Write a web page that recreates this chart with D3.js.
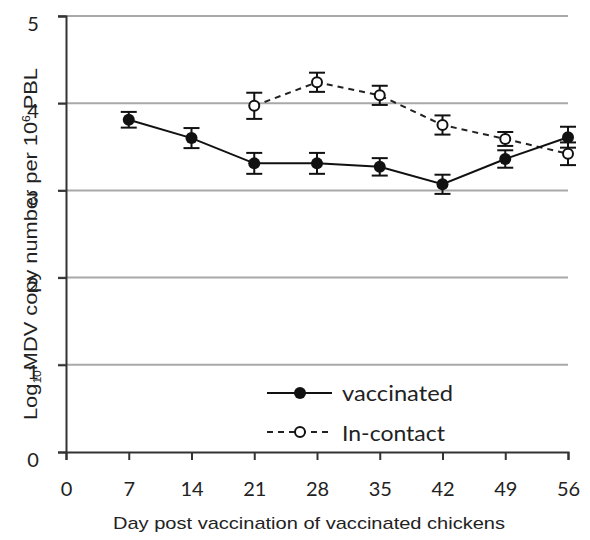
<!DOCTYPE html>
<html>
<head>
<meta charset="utf-8">
<script src="https://cdn.jsdelivr.net/npm/d3@7"></script>
<style>
  html, body { margin: 0; padding: 0; background: #fff; }
  svg { display: block; }
</style>
</head>
<body>
<svg id="chart" width="590" height="540"></svg>
<script>
const days = [7, 14, 21, 28, 35, 42, 49, 56];
const vaccinated = [3.81, 3.60, 3.31, 3.31, 3.27, 3.07, 3.36, 3.61];
const vaccinatedErr = [0.09, 0.115, 0.12, 0.12, 0.10, 0.11, 0.10, 0.12];
const inContactDays = [21, 28, 35, 42, 49, 56];
const inContact = [3.97, 4.24, 4.09, 3.75, 3.59, 3.42];
const inContactErr = [0.15, 0.11, 0.11, 0.11, 0.08, 0.13];
const xTicks = [0, 7, 14, 21, 28, 35, 42, 49, 56];
const yTicks = [0, 1, 2, 3, 4, 5];
const seriesNames = ["vaccinated", "In-contact"];

const svg = d3.select("#chart");
const x = d3.scaleLinear().domain([0, 56]).range([66, 568]);
const y = d3.scaleLinear().domain([0, 5]).range([452, 16]);

// gridlines
svg.append("g").selectAll("line").data(yTicks.filter(d => d > 0)).join("line")
  .attr("x1", 58).attr("x2", x(56))
  .attr("y1", d => y(d)).attr("y2", d => y(d))
  .attr("stroke", "#a8a8a8").attr("stroke-width", 2);

// y title (drawn beneath tick labels)
const yt = svg.append("text")
  .attr("transform", "translate(37,244) rotate(-90)")
  .attr("text-anchor", "middle")
  .attr("font-family", "'Liberation Sans', Arial, sans-serif").attr("font-size", 18)
  .attr("fill", "#222");
yt.append("tspan").text("Log");
yt.append("tspan").attr("font-size", 10).attr("dy", 4).text("10");
yt.append("tspan").attr("dy", -4).text("MDV copy number per 10");
yt.append("tspan").attr("font-size", 10).attr("dy", -7).text("6");
yt.append("tspan").attr("dy", 7).text(" PBL");
yt.attr("textLength", 352).attr("lengthAdjust", "spacingAndGlyphs");

// y axis
const yAxis = svg.append("g").attr("transform", `translate(${x(0)},0)`)
  .call(d3.axisLeft(y).tickValues(yTicks).tickSize(8).tickPadding(18).tickFormat(d3.format("d")));
yAxis.select(".domain").attr("stroke", "#333").attr("stroke-width", 2);
yAxis.selectAll(".tick line").attr("stroke", "#333").attr("stroke-width", 2);
yAxis.selectAll(".tick text")
  .attr("font-family", "Lato, 'Open Sans', sans-serif").attr("font-size", 20)
  .attr("fill", "#222").attr("dy", "0.7em").attr("text-anchor", "middle").attr("x", -33);

// x axis
const xAxis = svg.append("g").attr("transform", `translate(0,${y(0)})`)
  .call(d3.axisBottom(x).tickValues(xTicks).tickSize(8).tickPadding(22).tickFormat(d3.format("d")));
xAxis.select(".domain").attr("stroke", "#333").attr("stroke-width", 2);
xAxis.selectAll(".tick line").attr("stroke", "#333").attr("stroke-width", 2);
xAxis.selectAll(".tick text")
  .attr("font-family", "Lato, 'Open Sans', sans-serif").attr("font-size", 20).attr("fill", "#222");

// x title
svg.append("text")
  .attr("x", 309).attr("y", 529).attr("text-anchor", "middle")
  .attr("font-family", "'Liberation Sans', Arial, sans-serif").attr("font-size", 17)
  .attr("fill", "#222")
  .attr("textLength", 392).attr("lengthAdjust", "spacingAndGlyphs")
  .text("Day post vaccination of vaccinated chickens");

// lines
const line = d3.line().x(d => x(d[0])).y(d => y(d[1]));
const vacData = days.map((d, i) => [d, vaccinated[i], vaccinatedErr[i]]);
const conData = inContactDays.map((d, i) => [d, inContact[i], inContactErr[i]]);

svg.append("path").datum(conData).attr("d", line)
  .attr("fill", "none").attr("stroke", "#222").attr("stroke-width", 2).attr("stroke-dasharray", "6,5");
svg.append("path").datum(vacData).attr("d", line)
  .attr("fill", "none").attr("stroke", "#111").attr("stroke-width", 2);

function errorBars(data) {
  const g = svg.append("g").attr("stroke", "#111").attr("stroke-width", 2);
  data.forEach(d => {
    const cx = x(d[0]), top = y(d[1] + d[2]), bot = y(d[1] - d[2]);
    g.append("line").attr("x1", cx).attr("x2", cx).attr("y1", top).attr("y2", bot);
    g.append("line").attr("x1", cx - 8).attr("x2", cx + 8).attr("y1", top).attr("y2", top);
    g.append("line").attr("x1", cx - 8).attr("x2", cx + 8).attr("y1", bot).attr("y2", bot);
  });
}
errorBars(conData);
errorBars(vacData);

svg.append("g").selectAll("circle").data(conData).join("circle")
  .attr("cx", d => x(d[0])).attr("cy", d => y(d[1])).attr("r", 5)
  .attr("fill", "#fff").attr("stroke", "#111").attr("stroke-width", 2);
svg.append("g").selectAll("circle").data(vacData).join("circle")
  .attr("cx", d => x(d[0])).attr("cy", d => y(d[1])).attr("r", 6)
  .attr("fill", "#111");

// legend
const lg = svg.append("g");
lg.append("line").attr("x1", 267).attr("x2", 332).attr("y1", 393).attr("y2", 393)
  .attr("stroke", "#111").attr("stroke-width", 2);
lg.append("circle").attr("cx", 300).attr("cy", 393).attr("r", 6).attr("fill", "#111");
lg.append("text").attr("x", 342).attr("y", 401)
  .attr("font-family", "Lato, 'Open Sans', sans-serif").attr("font-size", 22).attr("fill", "#222")
  .attr("textLength", 111).attr("lengthAdjust", "spacingAndGlyphs")
  .text(seriesNames[0]);
lg.append("line").attr("x1", 267).attr("x2", 332).attr("y1", 432).attr("y2", 432)
  .attr("stroke", "#222").attr("stroke-width", 2).attr("stroke-dasharray", "6,5");
lg.append("circle").attr("cx", 300).attr("cy", 432).attr("r", 5)
  .attr("fill", "#fff").attr("stroke", "#111").attr("stroke-width", 2);
lg.append("text").attr("x", 342).attr("y", 441)
  .attr("font-family", "Lato, 'Open Sans', sans-serif").attr("font-size", 22).attr("fill", "#222")
  .attr("textLength", 103).attr("lengthAdjust", "spacingAndGlyphs")
  .text(seriesNames[1]);
</script>
</body>
</html>
